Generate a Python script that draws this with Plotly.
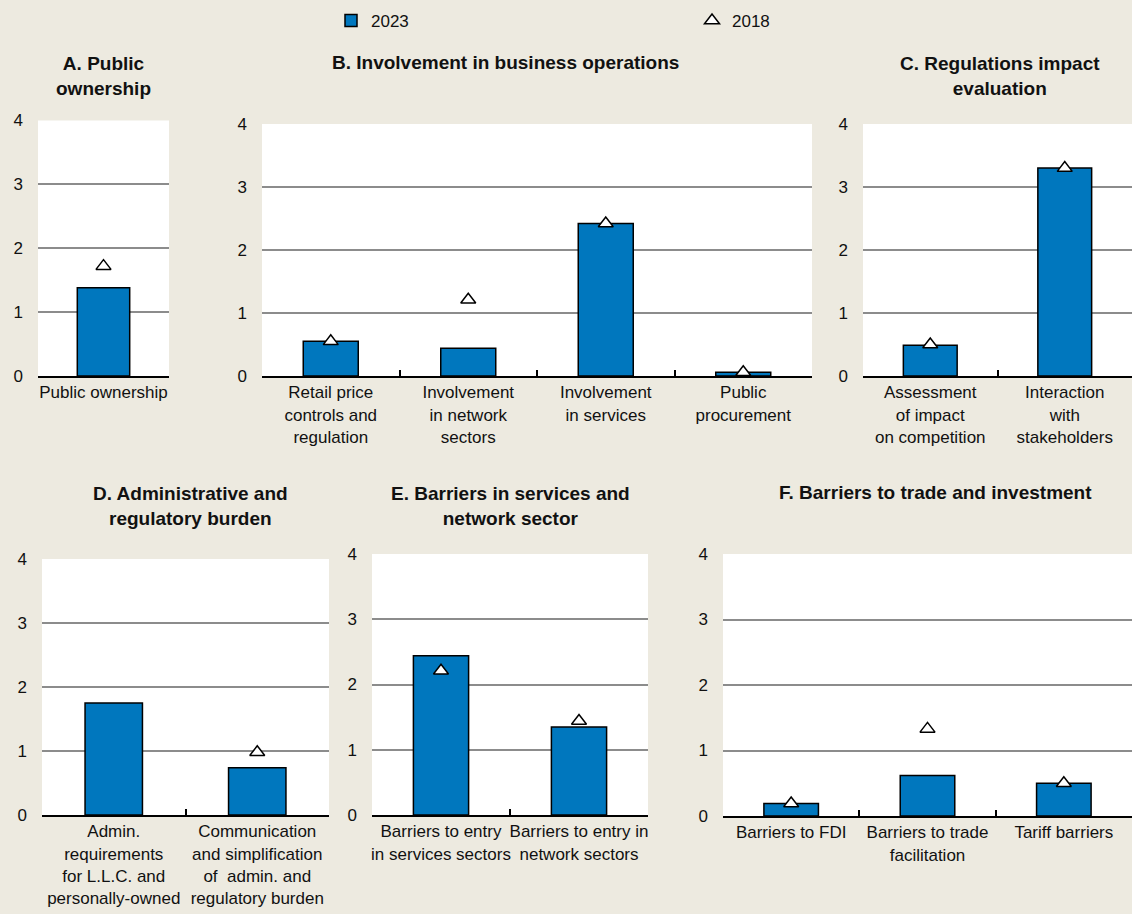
import plotly.graph_objects as go

W, H = 1132, 914

# ---------------- data ----------------
a_cats = ["Public ownership"]
a_2023 = [1.38]
a_2018 = [1.72]

b_cats = ["Retail price<br>controls and<br>regulation", "Involvement<br>in network<br>sectors",
          "Involvement<br>in services", "Public<br>procurement"]
b_2023 = [0.55, 0.44, 2.42, 0.06]
b_2018 = [0.55, 1.21, 2.42, 0.06]

c_cats = ["Assessment<br>of impact<br>on competition", "Interaction<br>with<br>stakeholders"]
c_2023 = [0.49, 3.30]
c_2018 = [0.50, 3.30]

d_cats = ["Admin.<br>requirements<br>for L.L.C. and<br>personally-owned",
          "Communication<br>and simplification<br>of  admin. and<br>regulatory burden"]
d_2023 = [1.75, 0.74]
d_2018 = [None, 0.98]

e_cats = ["Barriers to entry<br>in services sectors", "Barriers to entry in<br>network sectors"]
e_2023 = [2.44, 1.35]
e_2018 = [2.21, 1.44]

f_cats = ["Barriers to FDI", "Barriers to trade<br>facilitation", "Tariff barriers"]
f_2023 = [0.19, 0.62, 0.50]
f_2018 = [0.19, 1.33, 0.50]

titles = ["A. Public<br>ownership", "B. Involvement in business operations",
          "C. Regulations impact<br>evaluation", "D. Administrative and<br>regulatory burden",
          "E. Barriers in services and<br>network sector", "F. Barriers to trade and investment"]
y_ticks = [0, 1, 2, 3, 4]

# ---------------- layout geometry (pixels) ----------------
panels = [
    dict(cats=a_cats, v23=a_2023, v18=a_2018, box=(38, 169, 120.5, 376), tpos=(103, 76.5)),
    dict(cats=b_cats, v23=b_2023, v18=b_2018, box=(262, 812, 124, 376), tpos=(505, 63)),
    dict(cats=c_cats, v23=c_2023, v18=c_2018, box=(863, 1132, 124, 376), tpos=(1000, 76.5)),
    dict(cats=d_cats, v23=d_2023, v18=d_2018, box=(42, 329, 559, 815), tpos=(190, 506)),
    dict(cats=e_cats, v23=e_2023, v18=e_2018, box=(372, 648, 554, 815), tpos=(510, 506)),
    dict(cats=f_cats, v23=f_2023, v18=f_2018, box=(723, 1132, 554, 816), tpos=(935, 493)),
]

FONT = "Liberation Sans, Arial, sans-serif"
BAR = "#0077BE"
BG = "#EDEAE0"

fig = go.Figure()
layout = dict(
    width=W, height=H, autosize=False,
    margin=dict(l=0, r=0, t=0, b=0, pad=0, autoexpand=False),
    paper_bgcolor=BG,
    font=dict(family=FONT, size=17, color="#111111"),
    showlegend=True,
    legend=dict(orientation="h", x=331 / W, xanchor="left", y=1 - 3 / H, yanchor="top",
                entrywidth=316, entrywidthmode="pixels", bgcolor="rgba(0,0,0,0)",
                font=dict(size=17), traceorder="normal"),
    annotations=[],
    bargap=0.6,
)

for i, p in enumerate(panels):
    n = "" if i == 0 else str(i + 1)
    x0, x1, y0, y1 = p["box"]
    fig.add_trace(go.Bar(
        x=p["cats"], y=p["v23"], xaxis="x" + n, yaxis="y" + n, name="2023",
        legendgroup="2023", showlegend=(i == 0), width=0.4,
        marker=dict(color=BAR, line=dict(color="black", width=1.5)),
    ))
    fig.add_trace(go.Scatter(
        x=p["cats"], y=p["v18"], xaxis="x" + n, yaxis="y" + n, name="2018",
        legendgroup="2018", showlegend=(i == 0), mode="markers",
        marker=dict(symbol="triangle-up", size=13, color="white",
                    line=dict(color="black", width=1.5)),
    ))
    layout["xaxis" + n] = dict(
        domain=[x0 / W, x1 / W], anchor="y" + n, type="category", automargin=False,
        showline=True, linecolor="black", linewidth=2, tickangle=0,
        ticks="inside", tickson="boundaries", ticklen=6, tickwidth=2, tickcolor="black",
        showgrid=False, tickfont=dict(size=17, color="#111111"), fixedrange=True,
    )
    layout["yaxis" + n] = dict(
        domain=[1 - y1 / H, 1 - y0 / H], anchor="x" + n, range=[0, 4], automargin=False,
        tickvals=y_ticks, showgrid=True, gridcolor="#8C8C8C", gridwidth=1.5,
        zeroline=False, showline=False, ticks="", ticklabelstandoff=14,
        tickfont=dict(size=17, color="#111111"), fixedrange=True,
    )
    tx, ty = p["tpos"]
    layout["annotations"].append(dict(
        text="<b>" + titles[i] + "</b>", x=tx / W, y=1 - ty / H, xref="paper", yref="paper",
        xanchor="center", yanchor="middle", showarrow=False,
        font=dict(size=19, family=FONT, color="#111111"),
    ))

fig.update_layout(**layout)
fig.update_layout(plot_bgcolor="white")
fig.write_html("out.html", config={"displayModeBar": False},
               post_script="document.body.style.margin='0';document.body.style.padding='0';")
